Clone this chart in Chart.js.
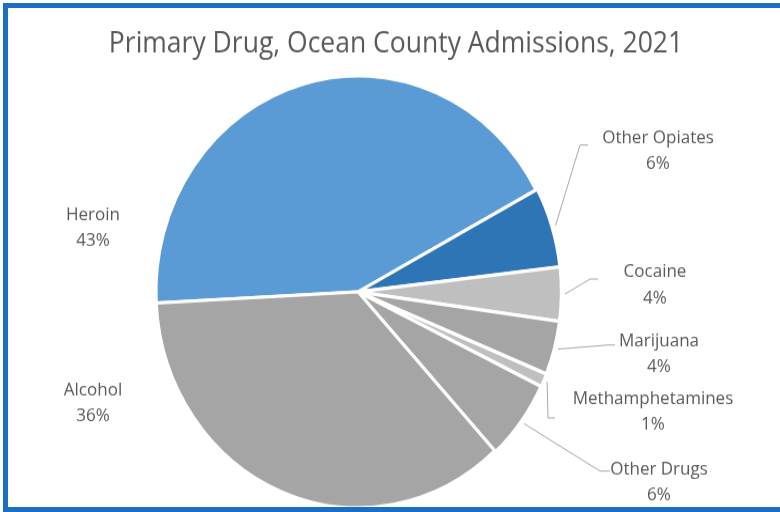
<!DOCTYPE html>
<html>
<head>
<meta charset="utf-8">
<script src="https://cdn.jsdelivr.net/npm/chart.js@4.4.1/dist/chart.umd.min.js"></script>
<style>
  html, body { margin: 0; padding: 0; background: #fff; overflow: hidden; }
  #wrap { position: relative; width: 780px; height: 512px; overflow: hidden; }
  /* canvas is drawn a little short and stretched to full height */
  #drugChart { display: block; transform: scaleY(1.0689); transform-origin: 0 0; }
  #frame {
    position: absolute; left: 3px; top: 3px; width: 820px; height: 499px;
    border: 5px solid #1B6FC2; pointer-events: none;
  }
</style>
</head>
<body>
<div id="wrap">
  <canvas id="drugChart" width="780" height="479"></canvas>
  <div id="frame"></div>
</div>
<script>
// ข้อมูลกราฟ (Primary drug, Ocean County 2021)
const chartTitle = 'Primary Drug, Ocean County Admissions, 2021';
const drugNames = ['Heroin', 'Other Opiates', 'Cocaine', 'Marijuana', 'Methamphetamines', 'Other Drugs', 'Alcohol'];
const drugShare = [43, 6, 4, 4, 1, 6, 36];
const sliceColors = ['#5B9BD5', '#2E75B6', '#BFBFBF', '#A5A5A5', '#BFBFBF', '#A5A5A5', '#A5A5A5'];

const STRETCH = 512 / 479; // สเกลแนวตั้งของ canvas

// ตำแหน่งป้ายชื่อ (พิกัดหน้าจอ): x กลางข้อความ, y บรรทัดแรก, เส้นชี้ (ข้อศอก, ปลาย)
const labelSpots = [
  { x: 93,  y: 215 },
  { x: 658, y: 138, leader: [[580, 145], [588, 145]] },
  { x: 655, y: 272, leader: [[590, 279], [598, 279]] },
  { x: 659, y: 341, leader: [[608, 345], [615, 345]] },
  { x: 653, y: 399, leader: [[548, 418], [555, 418]] },
  { x: 659, y: 469, leader: [[600, 471], [610, 471]] },
  { x: 93,  y: 390 }
];

// หัวข้อกราฟ วาดเองเพื่อให้อยู่กลางภาพ ไม่ขึ้นกับ padding ของวงกลม
const titleDraw = {
  id: 'titleDraw',
  beforeDraw(chart) {
    const ctx = chart.ctx;
    ctx.save();
    ctx.fillStyle = '#595959';
    ctx.font = '26.5px "Open Sans"';
    ctx.textAlign = 'center';
    ctx.textBaseline = 'alphabetic';
    ctx.fillText(chartTitle, 396, 52 / STRETCH);
    ctx.restore();
  }
};

// ปลั๊กอินวาดป้ายชื่อ + เปอร์เซ็นต์ + เส้นชี้
const sliceLabels = {
  id: 'sliceLabels',
  afterDatasetsDraw(chart) {
    const ctx = chart.ctx;
    const arcs = chart.getDatasetMeta(0).data;
    const total = drugShare.reduce((a, b) => a + b, 0);
    ctx.save();
    arcs.forEach((arc, i) => {
      const spot = labelSpots[i];
      if (spot.leader) {
        const mid = (arc.startAngle + arc.endAngle) / 2;
        const r = arc.outerRadius + (arc.options.offset || 0) + 2;
        ctx.beginPath();
        ctx.moveTo(arc.x + Math.cos(mid) * r, arc.y + Math.sin(mid) * r);
        spot.leader.forEach(p => ctx.lineTo(p[0], p[1] / STRETCH));
        ctx.strokeStyle = '#A6A6A6';
        ctx.lineWidth = 1;
        ctx.stroke();
      }
      ctx.fillStyle = '#595959';
      ctx.font = '17px "Open Sans"';
      ctx.textAlign = 'center';
      ctx.textBaseline = 'middle';
      ctx.fillText(drugNames[i], spot.x, spot.y / STRETCH);
      ctx.fillText(Math.round(drugShare[i] / total * 100) + '%', spot.x, (spot.y + 26) / STRETCH);
    });
    ctx.restore();
  }
};

new Chart(document.getElementById('drugChart'), {
  type: 'pie',
  data: {
    labels: drugNames,
    datasets: [{
      data: drugShare,
      backgroundColor: sliceColors,
      borderColor: '#FFFFFF',
      borderWidth: 3,
      offset: [0, 3, 3, 3, 3, 3, 0],
      radius: 202
    }]
  },
  options: {
    responsive: false,
    animation: false,
    devicePixelRatio: 1,
    rotation: 267,
    layout: { padding: { top: 71, bottom: 4, left: 100, right: 164 } },
    plugins: {
      legend: { display: false },
      tooltip: { enabled: false },
      title: { display: false }
    }
  },
  plugins: [titleDraw, sliceLabels]
});
</script>
</body>
</html>
